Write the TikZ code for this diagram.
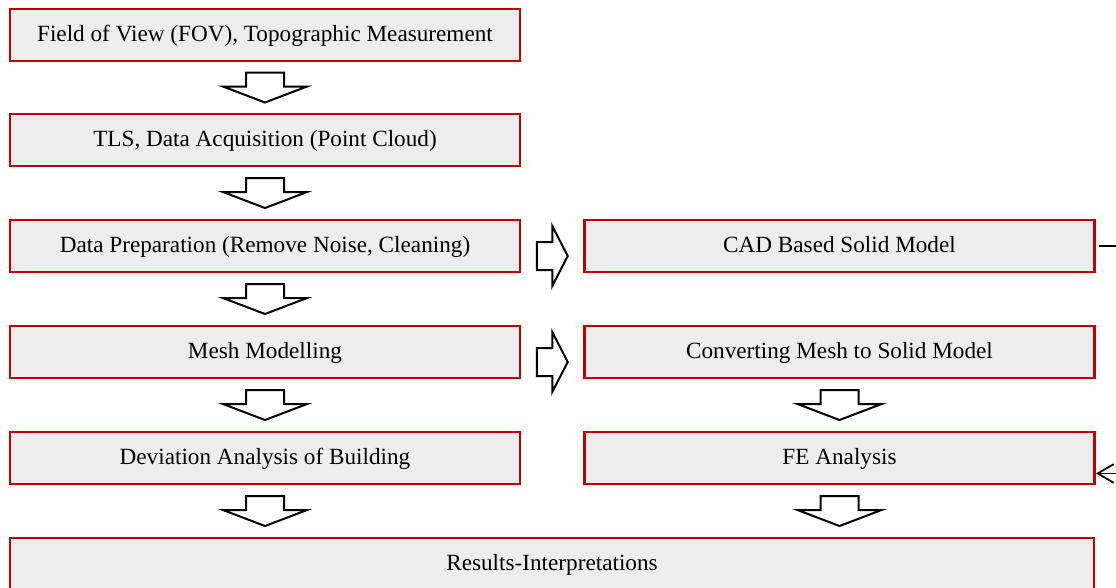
\documentclass[tikz,border=0pt]{standalone}
\usepackage{fontspec}
\setmainfont{Liberation Serif}
\usetikzlibrary{calc,arrows.meta}
\definecolor{boxred}{RGB}{192,0,0}
\definecolor{boxgray}{RGB}{237,237,237}
\newcommand{\BoxW}{382.5pt}
\newcommand{\BoxH}{39pt}
\newcommand{\LeftX}{265}
\newcommand{\RightX}{839.5}
\tikzset{
  stage/.style={draw=boxred,line width=2.2pt,fill=boxgray,minimum width=\BoxW,
    minimum height=\BoxH,inner sep=0pt,text depth=0.3em,font=\fontsize{17.4}{20}\selectfont},
  blockarrow/.style={draw=black,line width=1.5pt,fill=white,line join=miter},
  downblk/.pic={\draw[blockarrow] (-19,-15) -- (19,-15) -- (19,-1) -- (42,-1) -- (0,15) -- (-42,-1) -- (-19,-1) -- cycle;},
  rightblk/.pic={\draw[blockarrow] (-15.5,-14) -- (0,-14) -- (0,-30) -- (15.5,0) -- (0,30) -- (0,14) -- (-15.5,14) -- cycle;},
  link/.style={draw=black,line width=1.3pt,-{Straight Barb[length=12pt,width=14pt,line width=1.3pt]}}
}
\begin{document}
\begin{tikzpicture}[x=0.75pt,y=-0.75pt]
		\useasboundingbox (0,0) rectangle (1116,587);
		\clip (0,0) rectangle (1116,587);

		% left column
		\node[stage] (fov) at (\LeftX,35) {Field of View (FOV), Topographic Measurement};
		\node[stage] (tls) at (\LeftX,140) {TLS, Data Acquisition (Point Cloud)};
		\node[stage] (prep) at (\LeftX,246) {Data Preparation (Remove Noise, Cleaning)};
		\node[stage] (mesh) at (\LeftX,352) {Mesh Modelling};
		\node[stage] (dev) at (\LeftX,458) {Deviation Analysis of Building};

		% right column
		\node[stage] (cad) at (\RightX,246) {CAD Based Solid Model};
		\node[stage] (conv) at (\RightX,352) {Converting Mesh to Solid Model};
		\node[stage] (fea) at (\RightX,458) {FE Analysis};

		% bottom
		\node[stage,minimum width=813pt] (res) at (552,564) {Results-Interpretations};

		\pic at ($(fov.south)!0.5!(tls.north)$) {downblk};
		\pic at ($(tls.south)!0.5!(prep.north)$) {downblk};
		\pic at ($(prep.south)!0.5!(mesh.north)$) {downblk};
		\pic at ($(mesh.south)!0.5!(dev.north)$) {downblk};
		\pic at ($(dev.south)!0.5!(dev.south|-res.north)$) {downblk};
		\pic at ($(conv.south)!0.5!(fea.north)$) {downblk};
		\pic at ($(fea.south)!0.5!(fea.south|-res.north)$) {downblk};

		\pic at ($($(prep.east)!0.5!(cad.west)$)+(0,10)$) {rightblk};
		\pic at ($($(mesh.east)!0.5!(conv.west)$)+(0,10)$) {rightblk};

		% feedback from CAD model to FE analysis
		\coordinate (feain) at ($(fea.south east)+(0,-12)$);
		\draw[link,shorten <=2pt] (cad.east) -- ++(40,0) |- (feain);
	\end{tikzpicture}
\end{document}
